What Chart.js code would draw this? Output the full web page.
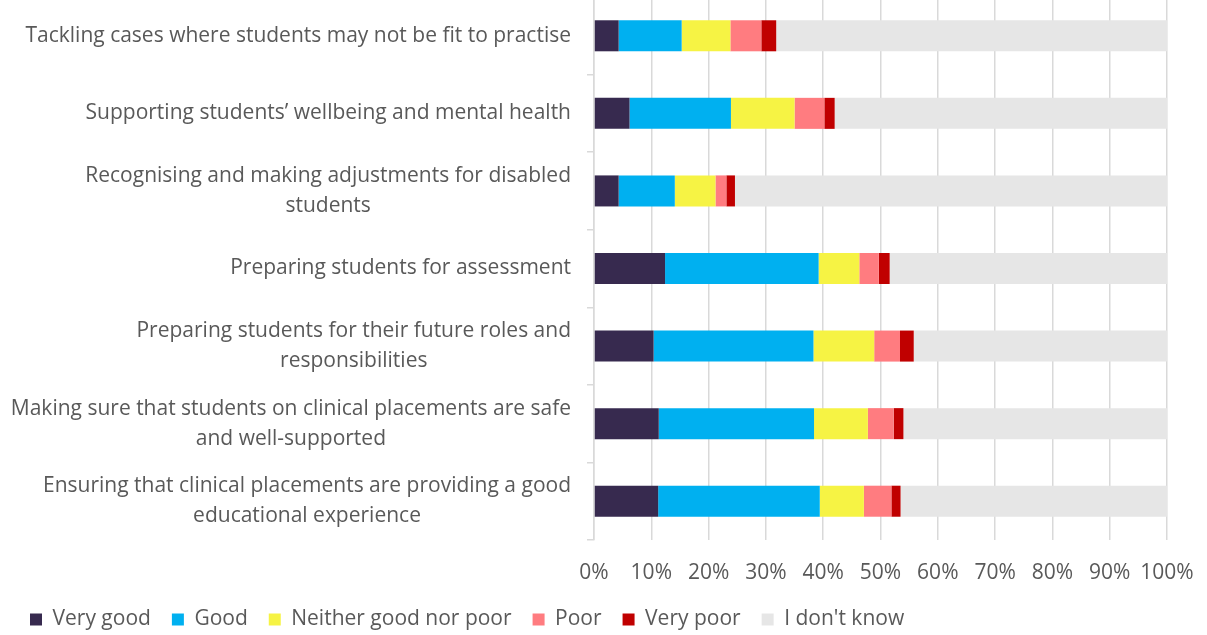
<!DOCTYPE html>
<html>
<head>
<meta charset="utf-8">
<script src="https://cdn.jsdelivr.net/npm/chart.js@4/dist/chart.umd.min.js"></script>
<style>
  html, body { margin: 0; padding: 0; background: #fff; overflow: hidden; }
  #wrap { position: absolute; left: 0; top: -3px; width: 1207px; height: 643px; }
</style>
</head>
<body>
<div id="wrap"><canvas id="bar-chart"></canvas></div>
<script>
const categories = [
    ['Tackling cases where students may not be fit to practise'],
    ['Supporting students\u2019 wellbeing and mental health'],
    ['Recognising and making adjustments for disabled', 'students'],
    ['Preparing students for assessment'],
    ['Preparing students for their future roles and', 'responsibilities'],
    ['Making sure that students on clinical placements are safe', 'and well-supported'],
    ['Ensuring that clinical placements are providing a good', 'educational experience']
];
const seriesNames = ['Very good', 'Good', 'Neither good nor poor', 'Poor', 'Very poor', "I don't know"];
const veryGood = [4.3, 6.2, 4.3, 12.4, 10.4, 11.3, 11.2];
const good = [11.0, 17.7, 9.8, 26.8, 27.9, 27.1, 28.2];
const neither = [8.5, 11.1, 7.1, 7.1, 10.6, 9.4, 7.7];
const poor = [5.4, 5.2, 1.9, 3.4, 4.5, 4.5, 4.8];
const veryPoor = [2.6, 1.8, 1.5, 1.9, 2.4, 1.7, 1.6];
const dontKnow = [68.2, 58.0, 75.4, 48.4, 44.2, 46.0, 46.5];
const xTicks = [0, 10, 20, 30, 40, 50, 60, 70, 80, 90, 100];

const colours = ['#372A4F', '#00B0F0', '#F6F344', '#FF7C80', '#C00000', '#E6E6E6'];
const textColour = '#595959';
const fontFamily = '"Open Sans", Lato, sans-serif';
const fontSize = 21;

// draws the category labels, each line centred inside its own block (Excel style)
const categoryLabels = {
    id: 'categoryLabels',
    afterDraw(chart) {
        const ctx = chart.ctx;
        const yScale = chart.scales.y;
        const right = chart.chartArea.left - 23;
        const lineHeight = 30;
        ctx.save();
        ctx.font = fontSize + 'px ' + fontFamily;
        ctx.fillStyle = textColour;
        ctx.textAlign = 'center';
        ctx.textBaseline = 'middle';
        categories.forEach((lines, i) => {
            const y = yScale.getPixelForValue(i);
            const w = Math.max(...lines.map(l => ctx.measureText(l).width));
            const cx = right - w / 2;
            lines.forEach((line, j) => {
                ctx.fillText(line, cx, y + (j - (lines.length - 1) / 2) * lineHeight);
            });
        });
        ctx.restore();
    }
};

const values = [veryGood, good, neither, poor, veryPoor, dontKnow];

new Chart(document.getElementById('bar-chart'), {
    type: 'bar',
    data: {
        labels: categories,
        datasets: seriesNames.map((name, i) => ({
            label: name,
            data: values[i],
            backgroundColor: colours[i],
            borderWidth: 0,
            barPercentage: 0.4,
            categoryPercentage: 1
        }))
    },
    options: {
        indexAxis: 'y',
        responsive: true,
        maintainAspectRatio: false,
        animation: false,
        layout: { padding: { left: 9, right: 40, top: 0, bottom: 0 } },
        scales: {
            x: {
                stacked: true,
                min: 0,
                max: 100,
                afterBuildTicks: scale => { scale.ticks = xTicks.map(v => ({ value: v })); },
                afterFit: scale => {
                    scale.height = 48;
                    scale.paddingLeft = 0;
                    scale.paddingRight = 0;
                },
                border: { display: false },
                grid: { color: '#D9D9D9', lineWidth: 1.5, drawTicks: false },
                ticks: {
                    padding: 20,
                    autoSkip: false,
                    maxRotation: 0,
                    minRotation: 0,
                    color: textColour,
                    font: { family: fontFamily, size: fontSize },
                    callback: v => v + '%'
                }
            },
            y: {
                stacked: true,
                afterFit: scale => { scale.width = 585; },
                border: { display: true, color: '#D9D9D9', width: 1.5 },
                grid: { drawOnChartArea: false, drawTicks: true, tickLength: 7, color: '#D9D9D9', lineWidth: 1.5 },
                ticks: { display: false }
            }
        },
        plugins: {
            legend: {
                position: 'bottom',
                align: 'start',
                labels: {
                    boxWidth: 12,
                    boxHeight: 12,
                    padding: 21,
                    color: textColour,
                    font: { family: fontFamily, size: fontSize }
                }
            },
            tooltip: { enabled: false }
        }
    },
    plugins: [categoryLabels]
});
</script>
</body>
</html>
